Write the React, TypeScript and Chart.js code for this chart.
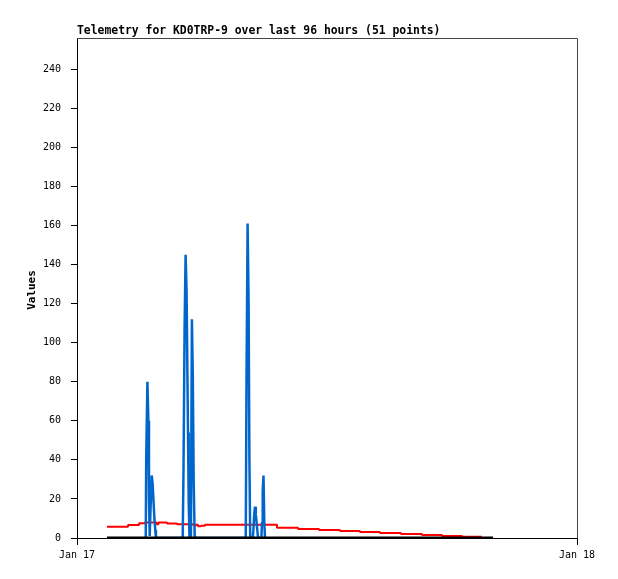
import React, { useEffect, useRef } from "react";
import { Chart, registerables } from "chart.js";

Chart.register(...registerables);

const titleText = "Telemetry for KD0TRP-9 over last 96 hours (51 points)";
const yAxisTitle = "Values";

const xTickValues = [0, 24];
const xTickLabels = ["Jan 17", "Jan 18"];
const yTickValues = [0, 20, 40, 60, 80, 100, 120, 140, 160, 180, 200, 220, 240];
const yMin = 0;
const yMax = 256;
const xMin = 0;
const xMax = 24;

// hours after Jan 17 00:00
const blueHours = [
  3.3, 3.322, 3.379, 3.426, 3.455, 3.49, 3.533, 3.586, 3.629, 3.672, 3.715, 3.758, 3.79,
  5.074, 5.113, 5.165, 5.213, 5.26, 5.294, 5.328, 5.362, 5.4, 5.434, 5.467, 5.515, 5.558, 5.602, 5.65,
  8.1, 8.136, 8.189, 8.237, 8.275, 8.314, 8.438, 8.467, 8.506, 8.544, 8.582, 8.621, 8.654, 8.688,
  8.851, 8.88, 8.914, 8.952, 8.99, 9.024,
];
const blueValues = [
  0, 40, 80, 60, 20, 1, 16, 32, 28, 19, 10, 4, 0,
  0, 36, 108, 145, 126, 90, 54, 18, 0, 30, 0, 112, 84, 28, 0,
  0, 80, 161, 120, 41, 0, 0, 4, 12, 16, 12, 8, 4, 0,
  0, 8, 24, 32, 8, 0,
];

const redHours = [
  1.44, 2.45, 2.98, 3.26, 3.82, 3.91, 4.32, 4.8, 5.42, 5.52, 5.62, 5.71, 5.81, 5.95, 6.14,
  9.6, 10.61, 11.62, 12.62, 13.58, 14.54, 15.55, 16.56, 17.52, 18.48, 19.43,
];
const redValues = [
  5.8, 6.7, 7.5, 8.0, 7.0, 8.0, 7.4, 7.1, 6.6, 7.0, 6.3, 6.8, 6.0, 6.3, 6.8,
  5.3, 4.6, 4.1, 3.6, 3.1, 2.6, 2.05, 1.55, 1.0, 0.7, 0.7,
];

const blackHours = [1.44, 19.97];
const blackValues = [0, 0];

const toPoints = (xs: number[], ys: number[]) => xs.map((x, i) => ({ x, y: ys[i] }));

const tickFont = { family: "'DejaVu Sans Mono', monospace", size: 10 };

const decorPlugin = {
  id: "decor",
  afterDraw(chart: any) {
    const { ctx, chartArea: a } = chart;
    ctx.save();
    ctx.strokeStyle = "#444444";
    ctx.lineWidth = 1;
    ctx.beginPath();
    ctx.moveTo(a.left, a.top + 0.5);
    ctx.lineTo(a.right + 0.5, a.top + 0.5);
    ctx.lineTo(a.right + 0.5, a.bottom);
    ctx.stroke();
    ctx.fillStyle = "#000";
    ctx.font = "bold 11.4px 'DejaVu Sans Mono', monospace";
    ctx.textAlign = "left";
    ctx.textBaseline = "alphabetic";
    ctx.fillText(titleText, a.left, 34);
    ctx.translate(32, (a.top + a.bottom) / 2 + 2);
    ctx.rotate(-Math.PI / 2);
    ctx.textAlign = "center";
    ctx.textBaseline = "middle";
    ctx.font = "bold 11px 'DejaVu Sans Mono', monospace";
    ctx.fillText(yAxisTitle, 0, 0);
    ctx.restore();
  },
};

export default function App() {
  const ref = useRef<HTMLCanvasElement | null>(null);
  useEffect(() => {
    if (!ref.current) return;
    const chart = new Chart(ref.current, {
      type: "line",
      data: {
        datasets: [
          {
            data: toPoints(blackHours, blackValues),
            borderColor: "#000000",
            borderWidth: 3,
            order: 0,
          },
          {
            data: toPoints(blueHours, blueValues),
            borderColor: "#0066cc",
            borderWidth: 2.5,
            order: 1,
          },
          {
            data: toPoints(redHours, redValues),
            borderColor: "#ff0000",
            borderWidth: 2,
            stepped: true,
            order: 2,
          },
        ],
      },
      options: {
        responsive: false,
        animation: false,
        devicePixelRatio: 1,
        layout: { padding: { top: 38, right: 41, left: 0, bottom: 0 } },
        plugins: {
          legend: { display: false },
          title: { display: false },
          tooltip: { enabled: false },
        },
        elements: {
          point: { radius: 0 },
          line: { tension: 0, borderJoinStyle: "bevel", borderCapStyle: "butt", fill: false },
        },
        scales: {
          x: {
            type: "linear",
            min: xMin,
            max: xMax,
            afterBuildTicks: (s: any) => {
              s.ticks = xTickValues.map((v) => ({ value: v }));
            },
            afterFit: (s: any) => {
              s.height = 41;
            },
            ticks: {
              callback: (_v: any, i: number) => xTickLabels[i],
              font: tickFont,
              color: "#000",
              padding: 4,
              maxRotation: 0,
              autoSkip: false,
            },
            grid: { drawOnChartArea: false, tickLength: 7, color: "#000" },
            border: { color: "#000" },
          },
          y: {
            type: "linear",
            min: yMin,
            max: yMax,
            afterBuildTicks: (s: any) => {
              s.ticks = yTickValues.map((v) => ({ value: v }));
            },
            afterFit: (s: any) => {
              s.width = 77;
            },
            ticks: {
              callback: (v: any) => String(v),
              font: tickFont,
              color: "#000",
              padding: 10,
              autoSkip: false,
            },
            grid: { drawOnChartArea: false, tickLength: 6, color: "#000" },
            border: { color: "#000" },
          },
        },
      },
      plugins: [decorPlugin],
    } as any);
    return () => chart.destroy();
  }, []);
  return (
    <div style={{ position: "absolute", left: 0, top: 0, width: 618, height: 579, background: "#fff" }}>
      <canvas ref={ref} width={618} height={579} style={{ display: "block" }} />
    </div>
  );
}
